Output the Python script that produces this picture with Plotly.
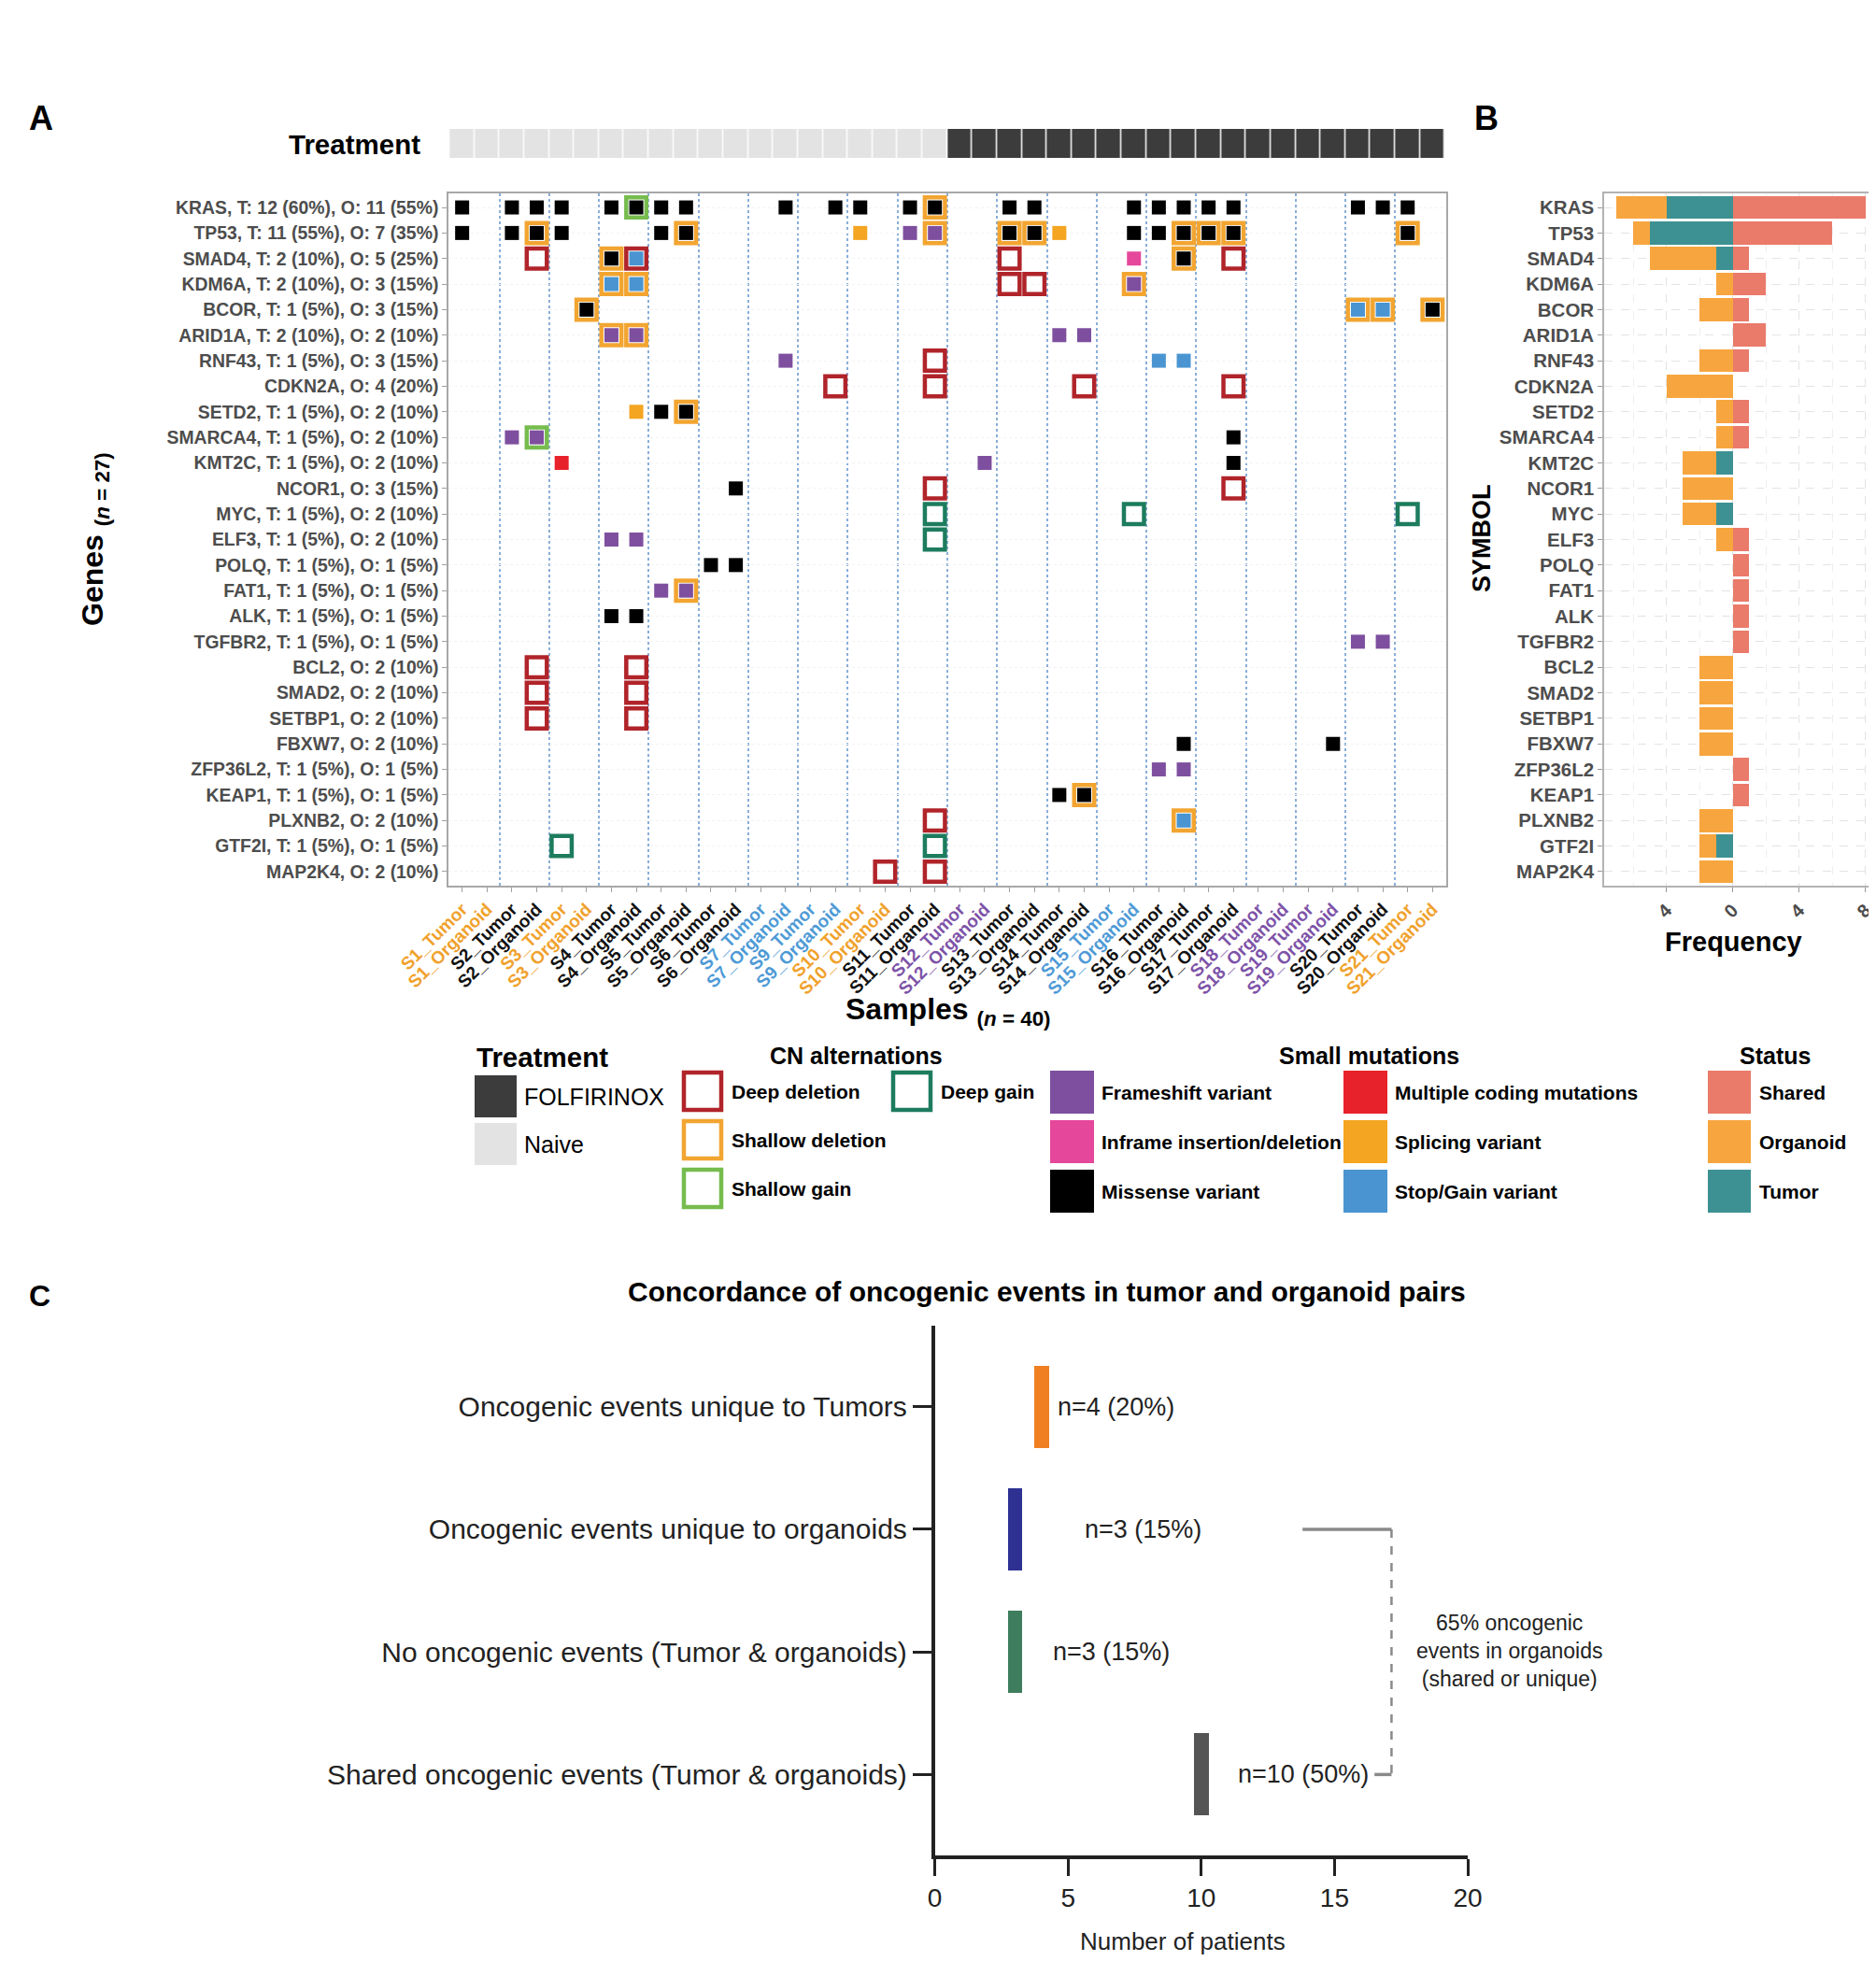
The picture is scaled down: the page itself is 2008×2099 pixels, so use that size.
import plotly.graph_objects as go

W, H = 2008, 2099
NARROW = "Liberation Sans Narrow, Arial Narrow, Liberation Sans, Arial, sans-serif"
SANS = "Liberation Sans, Arial, Helvetica, sans-serif"
OFF_X, OFF_Y = 9, 8


def X(p):
    return (p - OFF_X) / W


def Y(p):
    return 1 - (p - OFF_Y) / H


# ---------------- data ----------------
patients = ["S1", "S2", "S3", "S4", "S5", "S6", "S7", "S9", "S10", "S11",
            "S12", "S13", "S14", "S15", "S16", "S17", "S18", "S19", "S20", "S21"]
patient_treatment = ["Naive", "Naive", "Naive", "Naive", "Naive",
                     "Naive", "Naive", "Naive", "Naive", "Naive",
                     "FOLFIRINOX", "FOLFIRINOX", "FOLFIRINOX", "FOLFIRINOX", "FOLFIRINOX",
                     "FOLFIRINOX", "FOLFIRINOX", "FOLFIRINOX", "FOLFIRINOX", "FOLFIRINOX"]
patient_group = ["orange", "black", "orange", "black", "black", "black", "blue", "blue", "orange", "black",
                 "purple", "black", "black", "blue", "black", "black", "purple", "purple", "black", "orange"]
group_colors = {"orange": "#F0A12C", "black": "#111111", "blue": "#4E9AD6", "purple": "#7D53A8"}
sample_kinds = ["Tumor", "Organoid"]

genes = ["KRAS", "TP53", "SMAD4", "KDM6A", "BCOR", "ARID1A", "RNF43", "CDKN2A", "SETD2",
         "SMARCA4", "KMT2C", "NCOR1", "MYC", "ELF3", "POLQ", "FAT1", "ALK", "TGFBR2",
         "BCL2", "SMAD2", "SETBP1", "FBXW7", "ZFP36L2", "KEAP1", "PLXNB2", "GTF2I", "MAP2K4"]
gene_labels = [
    "KRAS, T: 12 (60%), O: 11 (55%)", "TP53, T: 11 (55%), O: 7 (35%)",
    "SMAD4, T: 2 (10%), O: 5 (25%)", "KDM6A, T: 2 (10%), O: 3 (15%)",
    "BCOR, T: 1 (5%), O: 3 (15%)", "ARID1A, T: 2 (10%), O: 2 (10%)",
    "RNF43, T: 1 (5%), O: 3 (15%)", "CDKN2A, O: 4 (20%)",
    "SETD2, T: 1 (5%), O: 2 (10%)", "SMARCA4, T: 1 (5%), O: 2 (10%)",
    "KMT2C, T: 1 (5%), O: 2 (10%)", "NCOR1, O: 3 (15%)",
    "MYC, T: 1 (5%), O: 2 (10%)", "ELF3, T: 1 (5%), O: 2 (10%)",
    "POLQ, T: 1 (5%), O: 1 (5%)", "FAT1, T: 1 (5%), O: 1 (5%)",
    "ALK, T: 1 (5%), O: 1 (5%)", "TGFBR2, T: 1 (5%), O: 1 (5%)",
    "BCL2, O: 2 (10%)", "SMAD2, O: 2 (10%)", "SETBP1, O: 2 (10%)",
    "FBXW7, O: 2 (10%)", "ZFP36L2, T: 1 (5%), O: 1 (5%)",
    "KEAP1, T: 1 (5%), O: 1 (5%)", "PLXNB2, O: 2 (10%)",
    "GTF2I, T: 1 (5%), O: 1 (5%)", "MAP2K4, O: 2 (10%)"]

# oncoprint events: gene -> sample numbers (1-based, in sample order)
deep_deletion = {"SMAD4": [4, 8, 23, 32], "KDM6A": [23, 24], "RNF43": [20], "CDKN2A": [16, 20, 26, 32],
                 "NCOR1": [20, 32], "BCL2": [4, 8], "SMAD2": [4, 8], "SETBP1": [4, 8],
                 "PLXNB2": [20], "MAP2K4": [18, 20]}
shallow_deletion = {"KRAS": [20], "TP53": [4, 10, 20, 23, 24, 30, 31, 32, 39], "SMAD4": [7, 30],
                    "KDM6A": [7, 8, 28], "BCOR": [6, 37, 38, 40], "ARID1A": [7, 8], "SETD2": [10],
                    "FAT1": [10], "KEAP1": [26], "PLXNB2": [30]}
shallow_gain = {"KRAS": [8], "SMARCA4": [4]}
deep_gain = {"MYC": [20, 28, 39], "ELF3": [20], "GTF2I": [5, 20]}

missense = {"KRAS": [1, 3, 4, 5, 7, 8, 9, 10, 14, 16, 17, 19, 20, 23, 24, 28, 29, 30, 31, 32, 37, 38, 39],
            "TP53": [1, 3, 4, 5, 9, 10, 23, 24, 28, 29, 30, 31, 32, 39],
            "SMAD4": [7, 30], "BCOR": [6, 40], "SETD2": [9, 10], "SMARCA4": [32], "KMT2C": [32],
            "NCOR1": [12], "POLQ": [11, 12], "ALK": [7, 8], "FBXW7": [30, 36], "KEAP1": [25, 26]}
frameshift = {"TP53": [19, 20], "KDM6A": [28], "ARID1A": [7, 8, 25, 26], "RNF43": [14],
              "SMARCA4": [3, 4], "KMT2C": [22], "ELF3": [7, 8], "FAT1": [9, 10],
              "TGFBR2": [37, 38], "ZFP36L2": [29, 30]}
inframe = {"SMAD4": [28]}
multiple_coding = {"KMT2C": [5]}
splicing = {"TP53": [17, 25], "SETD2": [8]}
stop_gain = {"SMAD4": [8], "KDM6A": [7, 8], "BCOR": [37, 38], "RNF43": [29, 30], "PLXNB2": [30]}

# panel B: status counts
status_shared = [8, 6, 1, 2, 1, 2, 1, 0, 1, 1, 0, 0, 0, 1, 1, 1, 1, 1, 0, 0, 0, 0, 1, 1, 0, 0, 0]
status_tumor = [4, 5, 1, 0, 0, 0, 0, 0, 0, 0, 1, 0, 1, 0, 0, 0, 0, 0, 0, 0, 0, 0, 0, 0, 0, 1, 0]
status_organoid = [3, 1, 4, 1, 2, 0, 2, 4, 1, 1, 2, 3, 2, 1, 0, 0, 0, 0, 2, 2, 2, 2, 0, 0, 2, 1, 2]
freq_ticks = [-4, 0, 4, 8]
freq_ticktext = ["4", "0", "4", "8"]

# panel C
conc_categories = ["Oncogenic events unique to Tumors", "Oncogenic events unique to organoids",
                   "No oncogenic events (Tumor & organoids)", "Shared oncogenic events (Tumor & organoids)"]
conc_values = [4, 3, 3, 10]
conc_labels = ["n=4 (20%)", "n=3 (15%)", "n=3 (15%)", "n=10 (50%)"]
conc_colors = ["#F07F22", "#2E3192", "#3E7D5E", "#555555"]
conc_ticks = [0, 5, 10, 15, 20]

# ---------------- derived ----------------
samples, sample_color, sample_treat = [], [], []
for p, t, g in zip(patients, patient_treatment, patient_group):
    for k in sample_kinds:
        samples.append(f"{p}_{k}")
        sample_color.append(group_colors[g])
        sample_treat.append(t)
sample_pos = list(range(1, len(samples) + 1))
gene_pos = list(range(len(genes)))

COL = dict(deep_del="#B0242A", shallow_del="#F2A531", shallow_gain="#76BC4E", deep_gain="#1D7C5E",
           frameshift="#7E4F9F", inframe="#E5479A", missense="#000000", multiple="#E8222A",
           splicing="#F4A521", stopgain="#4A95D1",
           shared="#EA7A6A", organoid="#F7A63F", tumor="#3E9193",
           naive="#E3E3E3", folfirinox="#3C3C3C")

fig = go.Figure()

# treatment bar
fig.add_trace(go.Heatmap(
    x=sample_pos, y=[0], z=[[1 if t == "FOLFIRINOX" else 0 for t in sample_treat]],
    colorscale=[[0, COL["naive"]], [1, COL["folfirinox"]]], zmin=0, zmax=1,
    xgap=1.5, showscale=False, hoverinfo="skip", xaxis="x", yaxis="y"))


def events_xy(d):
    xs, ys = [], []
    for g, cols in d.items():
        for c in cols:
            xs.append(c)
            ys.append(genes.index(g))
    return xs, ys


cn_sets = [(deep_deletion, COL["deep_del"]), (shallow_deletion, COL["shallow_del"]),
           (shallow_gain, COL["shallow_gain"]), (deep_gain, COL["deep_gain"])]
for d, c in cn_sets:
    xs, ys = events_xy(d)
    fig.add_trace(go.Scatter(x=xs, y=ys, mode="markers", xaxis="x2", yaxis="y2",
                             marker=dict(symbol="square-open", size=21.5, color=c, line=dict(width=4.5)),
                             showlegend=False, hoverinfo="skip"))

mut_sets = [(missense, COL["missense"]), (frameshift, COL["frameshift"]), (inframe, COL["inframe"]),
            (multiple_coding, COL["multiple"]), (splicing, COL["splicing"]), (stop_gain, COL["stopgain"])]
for d, c in mut_sets:
    xs, ys = events_xy(d)
    fig.add_trace(go.Scatter(x=xs, y=ys, mode="markers", xaxis="x2", yaxis="y2",
                             marker=dict(symbol="square", size=15, color=c, line=dict(width=0)),
                             showlegend=False, hoverinfo="skip"))

# panel B bars
fig.add_trace(go.Bar(y=gene_pos, x=[-v for v in status_tumor], orientation="h", width=0.9,
                     marker=dict(color=COL["tumor"], line=dict(width=0)), xaxis="x3", yaxis="y3",
                     showlegend=False, hoverinfo="skip"))
fig.add_trace(go.Bar(y=gene_pos, x=[-v for v in status_organoid], orientation="h", width=0.9,
                     marker=dict(color=COL["organoid"], line=dict(width=0)), xaxis="x3", yaxis="y3",
                     showlegend=False, hoverinfo="skip"))
fig.add_trace(go.Bar(y=gene_pos, x=status_shared, orientation="h", width=0.9,
                     marker=dict(color=COL["shared"], line=dict(width=0)), xaxis="x3", yaxis="y3",
                     showlegend=False, hoverinfo="skip"))

# panel C bars (thin floating bars centred on the value)
BAR_LEN = 0.55
fig.add_trace(go.Bar(y=list(range(len(conc_values))), x=[BAR_LEN] * len(conc_values),
                     base=[v - BAR_LEN / 2 for v in conc_values], orientation="h", width=0.67,
                     marker=dict(color=conc_colors, line=dict(width=0)), xaxis="x4", yaxis="y4",
                     showlegend=False, hoverinfo="skip"))

# ---------------- layout ----------------
onco_xdom = [X(481), X(1549)]
onco_ydom = [Y(948), Y(207)]
xr = [0.45, len(samples) + 0.55]
yr = [len(genes) - 1 + 0.55, -0.55]

sample_ticktext = [f'<span style="color:{c}"><b>{s}</b></span>' for s, c in zip(samples, sample_color)]
pair_bounds = [2 * i + 0.5 for i in range(1, len(patients))]

layout = dict(
    width=W, height=H, template="none",
    margin=dict(l=0, r=0, t=0, b=0, pad=0),
    paper_bgcolor="white", plot_bgcolor="white",
    barmode="relative", bargap=0, showlegend=False,
    font=dict(family=SANS, color="black"),
    xaxis=dict(domain=onco_xdom, range=xr, visible=False, anchor="y", fixedrange=True),
    yaxis=dict(domain=[Y(169), Y(138)], range=[-0.5, 0.5], visible=False, anchor="x"),
    xaxis2=dict(domain=onco_xdom, range=xr, anchor="y2", automargin=False,
                tickmode="array", tickvals=sample_pos, ticktext=sample_ticktext, tickangle=-45,
                tickfont=dict(family=NARROW, size=19), ticks="outside", ticklen=5, tickcolor="#A0A0A0",
                showline=True, mirror=True, linecolor="#A8A8A8", linewidth=1.5,
                showgrid=False, zeroline=False,
                minor=dict(tickmode="array", tickvals=pair_bounds, showgrid=True, griddash="dot",
                           gridcolor="#8AAED8", gridwidth=1.6, ticks="")),
    yaxis2=dict(domain=onco_ydom, range=yr, anchor="x2", automargin=False,
                tickmode="array", tickvals=gene_pos, ticktext=[f"<b>{g}</b>" for g in gene_labels],
                tickfont=dict(family=NARROW, size=19.4, color="#4D4D4D"), ticks="outside", ticklen=5,
                tickcolor="#A0A0A0", showline=True, mirror=True, linecolor="#A8A8A8", linewidth=1.5,
                showgrid=True, gridcolor="#F2F2F2", griddash="dot", gridwidth=1, zeroline=False),
    xaxis3=dict(domain=[X(1718), X(2011)], range=[-7.75, 8.75], anchor="y3", automargin=False,
                tickmode="array", tickvals=freq_ticks, ticktext=[f"<b>{t}</b>" for t in freq_ticktext],
                tickangle=-45,
                tickfont=dict(family=SANS, size=20, color="#4D4D4D"), ticks="outside", ticklen=5,
                tickcolor="#999999", showline=True, mirror=True, linecolor="#B3B3B3", linewidth=1.5,
                showgrid=True, gridcolor="#E3E3E3", griddash="dash", gridwidth=1, zeroline=False,
                minor=dict(tickmode="array", tickvals=[-6, -2, 2, 6], showgrid=True, griddash="dash",
                           gridcolor="#EFEFEF", ticks="")),
    yaxis3=dict(domain=onco_ydom, range=yr, anchor="x3", automargin=False,
                tickmode="array", tickvals=gene_pos, ticktext=[f"<b>{g}</b>" for g in genes],
                tickfont=dict(family=SANS, size=20.5, color="#4D4D4D"), ticks="outside", ticklen=5,
                tickcolor="#999999", showline=True, mirror=True, linecolor="#B3B3B3", linewidth=1.5,
                showgrid=True, gridcolor="#E3E3E3", griddash="dash", gridwidth=1, zeroline=False),
    xaxis4=dict(domain=[X(1001.6), X(1572)], range=[0, 20], anchor="y4", automargin=False,
                tickmode="array", tickvals=conc_ticks, ticks="outside", ticklen=18, tickwidth=3,
                tickcolor="#222222", tickfont=dict(family=SANS, size=28, color="#222222"),
                showline=True, linecolor="#222222", linewidth=3.5, showgrid=False, zeroline=False),
    yaxis4=dict(domain=[Y(1986), Y(1419)], range=[len(conc_values) - 1 + 0.66, -0.66], anchor="x4",
                automargin=False, tickmode="array", tickvals=list(range(len(conc_categories))),
                ticktext=conc_categories, ticks="outside", ticklen=20, tickwidth=3, tickcolor="#222222",
                tickfont=dict(family=SANS, size=30, color="#222222"),
                showline=True, linecolor="#222222", linewidth=3.5, showgrid=False, zeroline=False),
)

ann = []
shapes = []


def add_text(x, y, text, size, family=SANS, color="black", xanchor="center", angle=0):
    ann.append(dict(x=x, y=y, xref="paper", yref="paper", text=text, showarrow=False,
                    xanchor=xanchor, yanchor="middle", textangle=angle,
                    font=dict(family=family, size=size, color=color)))


# panel letters and titles
add_text(X(30), Y(127), "<b>A</b>", 36, xanchor="left")
add_text(X(1577), Y(127), "<b>B</b>", 36, xanchor="left")
add_text(X(30), Y(1387), "<b>C</b>", 32, xanchor="left")
add_text(X(453), Y(154), "<b>Treatment</b>", 29.5, family=NARROW, xanchor="right")
add_text(X(103), Y(577), "<b>Genes</b> <b><sub>(<i>n</i> = 27)</sub></b>", 32, family=NARROW, angle=-90)
add_text(X(1016), Y(1082), "<b>Samples</b> <b><sub>(<i>n</i> = 40)</sub></b>", 32, family=NARROW)
add_text(X(1587), Y(576), "<b>SYMBOL</b>", 27, angle=-90)
add_text(X(1856), Y(1008), "<b>Frequency</b>", 29)

# legend: treatment
add_text(X(509), Y(1131), "<b>Treatment</b>", 29.5, family=NARROW, xanchor="left")
treat_levels = [("FOLFIRINOX", COL["folfirinox"]), ("Naive", COL["naive"])]
for i, (lab, c) in enumerate(treat_levels):
    top = 1151 + i * 51
    shapes.append(dict(type="rect", xref="paper", yref="paper", x0=X(509), x1=X(554),
                       y0=Y(top + 45), y1=Y(top), fillcolor=c, line=dict(width=0)))
    add_text(X(560), Y(top + 23), lab, 25, family=NARROW, xanchor="left")

# legend: CN alterations
add_text(X(917), Y(1130), "<b>CN alternations</b>", 25)
cn_legend = [("Deep deletion", COL["deep_del"], 0, 0), ("Shallow deletion", COL["shallow_del"], 0, 1),
             ("Shallow gain", COL["shallow_gain"], 0, 2), ("Deep gain", COL["deep_gain"], 1, 0)]
cn_cols = [733, 957]
for lab, c, ci, ri in cn_legend:
    x0 = cn_cols[ci]
    top = 1148 + ri * 52
    shapes.append(dict(type="rect", xref="paper", yref="paper", x0=X(x0), x1=X(x0 + 40),
                       y0=Y(top + 40), y1=Y(top), fillcolor="white", line=dict(color=c, width=4.5)))
    add_text(X(x0 + 49), Y(top + 20), f"<b>{lab}</b>", 21, xanchor="left")

# legend: small mutations
add_text(X(1466), Y(1130), "<b>Small mutations</b>", 25)
mut_legend = [("Frameshift variant", COL["frameshift"], 0, 0), ("Inframe insertion/deletion", COL["inframe"], 0, 1),
              ("Missense variant", COL["missense"], 0, 2), ("Multiple coding mutations", COL["multiple"], 1, 0),
              ("Splicing variant", COL["splicing"], 1, 1), ("Stop/Gain variant", COL["stopgain"], 1, 2)]
mut_cols = [1125, 1439]
for lab, c, ci, ri in mut_legend:
    x0 = mut_cols[ci]
    top = 1146 + ri * 53
    shapes.append(dict(type="rect", xref="paper", yref="paper", x0=X(x0), x1=X(x0 + 47),
                       y0=Y(top + 46), y1=Y(top), fillcolor=c, line=dict(width=0)))
    add_text(X(x0 + 53), Y(top + 23), f"<b>{lab}</b>", 21, xanchor="left")

# legend: status
add_text(X(1901), Y(1130), "<b>Status</b>", 25)
status_legend = [("Shared", COL["shared"]), ("Organoid", COL["organoid"]), ("Tumor", COL["tumor"])]
for ri, (lab, c) in enumerate(status_legend):
    top = 1146 + ri * 53
    shapes.append(dict(type="rect", xref="paper", yref="paper", x0=X(1829), x1=X(1875),
                       y0=Y(top + 46), y1=Y(top), fillcolor=c, line=dict(width=0)))
    add_text(X(1882), Y(top + 23), f"<b>{lab}</b>", 21, xanchor="left")

# panel C texts
add_text(X(1121), Y(1382), "<b>Concordance of oncogenic events in tumor and organoid pairs</b>", 30)
add_text(X(1267), Y(2078), "Number of patients", 26, color="#222222")
label_offsets = [0.55, 2.54, 1.37, 1.3]
for i, (v, lab) in enumerate(zip(conc_values, conc_labels)):
    ann.append(dict(x=v + label_offsets[i], y=i, xref="x4", yref="y4", text=lab, showarrow=False,
                    xanchor="left", yanchor="middle", font=dict(family=SANS, size=27, color="#222222")))
add_text(X(1616), Y(1767), "65% oncogenic<br>events in organoids<br>(shared or unique)", 23, color="#222222")

# bracket linking organoid-unique and shared
shapes.append(dict(type="line", xref="x4", yref="y4", x0=13.8, x1=17.14, y0=1, y1=1,
                   line=dict(color="#8A8A8A", width=3.5)))
shapes.append(dict(type="line", xref="x4", yref="y4", x0=17.14, x1=17.14, y0=1, y1=3,
                   line=dict(color="#8A8A8A", width=2.5, dash="dash")))
shapes.append(dict(type="line", xref="x4", yref="y4", x0=16.5, x1=17.14, y0=3, y1=3,
                   line=dict(color="#8A8A8A", width=3.5)))

layout["annotations"] = ann
layout["shapes"] = shapes
fig.update_layout(**layout)

fig.write_html("out.html")
